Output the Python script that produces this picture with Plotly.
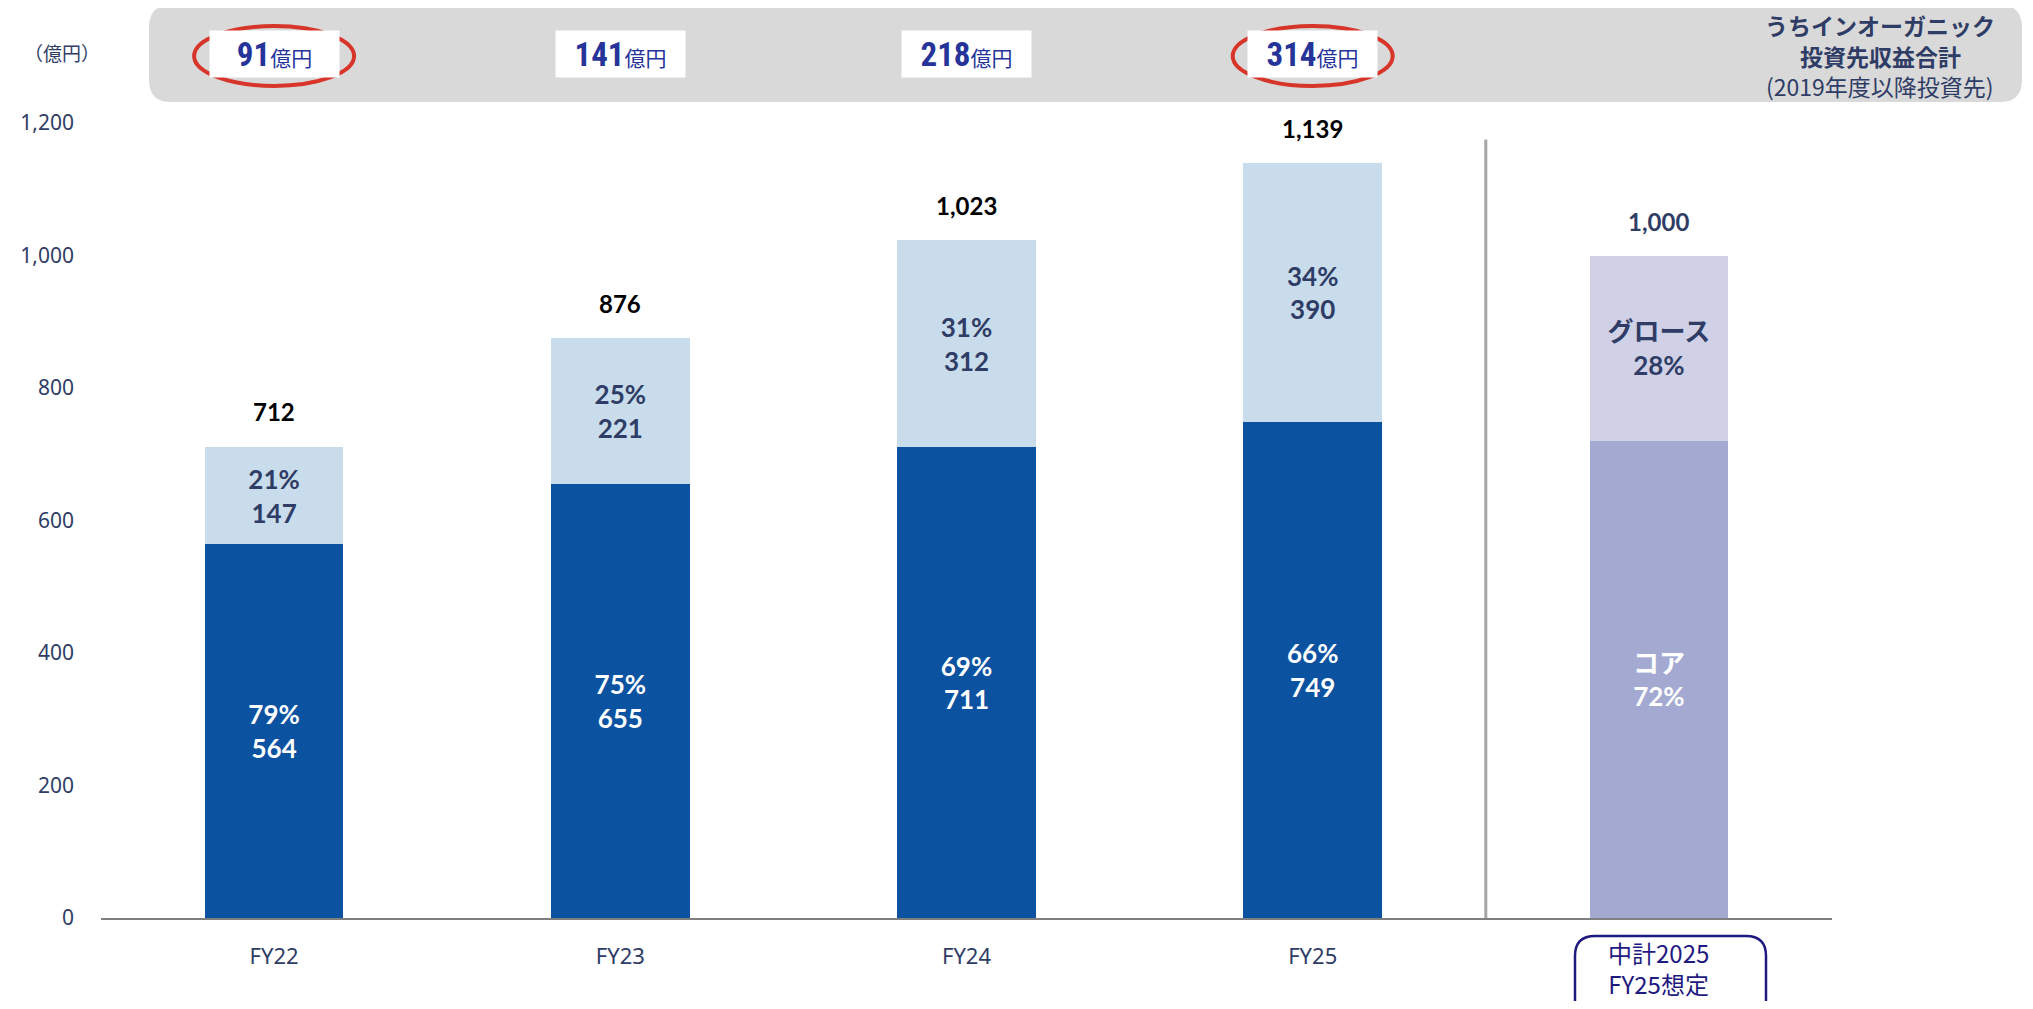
import plotly.graph_objects as go

# ---- data ----
categories = ["FY22", "FY23", "FY24", "FY25", "中計2025<br>FY25想定"]
core = [564, 655, 711, 749, 720]
growth = [147, 221, 312, 390, 280]
core_pct = [79, 75, 69, 66, 72]
growth_pct = [21, 25, 31, 34, 28]
totals = [712, 876, 1023, 1139, 1000]
inorganic = [91, 141, 218, 314]
highlighted = ["FY22", "FY25"]
y_ticks = [0, 200, 400, 600, 800, 1000, 1200]
header_lines = ["<b>うちインオーガニック</b>", "<b>投資先収益合計</b>", "(2019年度以降投資先)"]

# ---- page geometry (page pixels; the html body adds an 8px margin) ----
PAGE_W, PAGE_H, BODY = 2033, 1009, 8
PLOT_X0, PLOT_X1, PLOT_Y0, PLOT_Y1 = 101, 1832, 123, 918

W, H = PAGE_W - 2 * BODY, PAGE_H - 2 * BODY
L, R = PLOT_X0 - BODY, PAGE_W - BODY - PLOT_X1
T, B = PLOT_Y0 - BODY, PAGE_H - BODY - PLOT_Y1

NAVY = "#2f3d66"
INDIGO = "#26349a"


def px(x):
    return (x - PLOT_X0) / (PLOT_X1 - PLOT_X0)


def py(y):
    return (PLOT_Y1 - y) / (PLOT_Y1 - PLOT_Y0)


def rounded_rect(x0, y0, x1, y1, r):
    """Rounded rectangle path in paper coords from page pixel coords."""
    pts = [
        ("M", x0 + r, y0), ("L", x1 - r, y0), ("Q", x1, y0, x1, y0 + r),
        ("L", x1, y1 - r), ("Q", x1, y1, x1 - r, y1), ("L", x0 + r, y1),
        ("Q", x0, y1, x0, y1 - r), ("L", x0, y0 + r), ("Q", x0, y0, x0 + r, y0),
    ]
    out = []
    for p in pts:
        cmd, vals = p[0], p[1:]
        coords = []
        for i in range(0, len(vals), 2):
            coords.append(f"{px(vals[i]):.5f},{py(vals[i + 1]):.5f}")
        out.append(cmd + " " + " ".join(coords))
    return " ".join(out) + " Z"


n_act = len(inorganic)
core_colors = ["#0b52a1"] * n_act + ["#a3a9d1"]
growth_colors = ["#c9dcec"] * n_act + ["#d0d1e7"]
core_text = [f"{p}%<br>{v}" for p, v in zip(core_pct[:n_act], core[:n_act])] + [f"コア<br>{core_pct[-1]}%"]
growth_text = [f"{p}%<br>{v}" for p, v in zip(growth_pct[:n_act], growth[:n_act])] + [f"グロース<br>{growth_pct[-1]}%"]

fig = go.Figure()

fig.add_trace(
    go.Bar(
        x=categories,
        y=core,
        marker={"color": core_colors, "line": {"width": 0}},
        text=core_text,
        textposition="inside",
        insidetextanchor="middle",
        textangle=0,
        textfont={"family": "Lato, Noto Sans CJK JP", "size": 26, "color": "white", "weight": "bold"},
        hoverinfo="skip",
    )
)
fig.add_trace(
    go.Bar(
        x=categories,
        y=growth,
        marker={"color": growth_colors, "line": {"width": 0}},
        text=growth_text,
        textposition="inside",
        insidetextanchor="middle",
        textangle=0,
        textfont={"family": "Lato, Noto Sans CJK JP", "size": 26, "color": NAVY, "weight": "bold"},
        hoverinfo="skip",
    )
)

annotations = []

# totals above bars
for i, (cat, tot) in enumerate(zip(categories, totals)):
    annotations.append(
        {
            "x": cat, "y": tot, "xref": "x", "yref": "y",
            "text": f"<b>{tot:,}</b>", "showarrow": False,
            "yanchor": "bottom", "yshift": 18,
            "font": {"family": "Lato", "size": 24, "color": "black" if i < n_act else NAVY},
        }
    )

# inorganic revenue labels in the grey band
for cat, v in zip(categories, inorganic):
    annotations.append(
        {
            "x": cat, "y": py(54), "xref": "x", "yref": "paper",
            "xanchor": "center", "yanchor": "middle",
            "text": f"<b>{v}</b><span style='font-size:21px'>億円</span>",
            "showarrow": False, "bgcolor": "white", "width": 129, "height": 46,
            "borderpad": 0,
            "font": {"family": "Liberation Sans Narrow, Roboto Condensed, Roboto, Noto Sans CJK JP",
                     "size": 33, "color": INDIGO},
        }
    )

# header on the right
for line, y in zip(header_lines, [25, 56, 86]):
    annotations.append(
        {
            "x": px(1880), "y": py(y), "xref": "paper", "yref": "paper",
            "xanchor": "center", "yanchor": "middle",
            "text": line, "showarrow": False,
            "font": {"family": "Noto Sans CJK JP", "size": 23, "color": NAVY},
        }
    )

# unit
annotations.append(
    {
        "x": px(62), "y": py(52), "xref": "paper", "yref": "paper",
        "xanchor": "center", "yanchor": "middle",
        "text": "（億円）", "showarrow": False,
        "font": {"family": "Noto Sans CJK JP", "size": 19, "color": NAVY},
    }
)

# plan category label (boxed)
annotations.append(
    {
        "x": categories[-1], "y": py(968), "xref": "x", "yref": "paper",
        "xanchor": "center", "yanchor": "middle",
        "text": categories[-1], "showarrow": False,
        "font": {"family": "Noto Sans CJK JP", "size": 24, "color": "#1f1a80"},
    }
)

shapes = [
    # grey band
    {
        "type": "path", "xref": "paper", "yref": "paper", "layer": "below",
        "path": rounded_rect(149, 5, 2022, 102, 22),
        "fillcolor": "#d9d9d9", "line": {"width": 0},
    },
    # separator between actuals and plan
    {
        "type": "line", "xref": "x", "yref": "y",
        "x0": n_act - 0.5, "x1": n_act - 0.5, "y0": 0, "y1": 1175,
        "line": {"color": "#a6a6a6", "width": 3},
    },
    # box round plan label
    {
        "type": "path", "xref": "paper", "yref": "paper",
        "path": rounded_rect(1575, 936, 1766, 1040, 20),
        "line": {"color": "#1f1a80", "width": 2.5},
    },
]

# red circles round highlighted years
for cat in highlighted:
    shapes.append(
        {
            "type": "circle", "xref": "x", "yref": "paper",
            "xsizemode": "pixel", "ysizemode": "pixel",
            "xanchor": categories.index(cat), "yanchor": py(56),
            "x0": -80, "x1": 80, "y0": -30, "y1": 30,
            "line": {"color": "#d8352a", "width": 4},
        }
    )

fig.update_layout(
    width=W,
    height=H,
    barmode="stack",
    bargap=0.6,
    showlegend=False,
    plot_bgcolor="white",
    paper_bgcolor="white",
    margin={"l": L, "r": R, "t": T, "b": B, "pad": 0},
    annotations=annotations,
    shapes=shapes,
    xaxis={
        "tickmode": "array",
        "tickvals": categories,
        "ticktext": categories[:n_act] + [""],
        "showline": True,
        "linecolor": "#7f7f7f",
        "linewidth": 2,
        "ticks": "",
        "showgrid": False,
        "ticklabelstandoff": 18,
        "tickfont": {"family": "Noto Sans", "size": 22, "color": NAVY},
        "range": [-0.5, len(categories) - 0.5],
    },
    yaxis={
        "range": [0, 1200],
        "tickvals": y_ticks,
        "tickformat": ",",
        "showgrid": False,
        "zeroline": False,
        "showline": False,
        "ticks": "",
        "ticklabelstandoff": 26,
        "tickfont": {"family": "Noto Sans", "size": 21, "color": NAVY},
    },
)

fig.write_html("out.html")
